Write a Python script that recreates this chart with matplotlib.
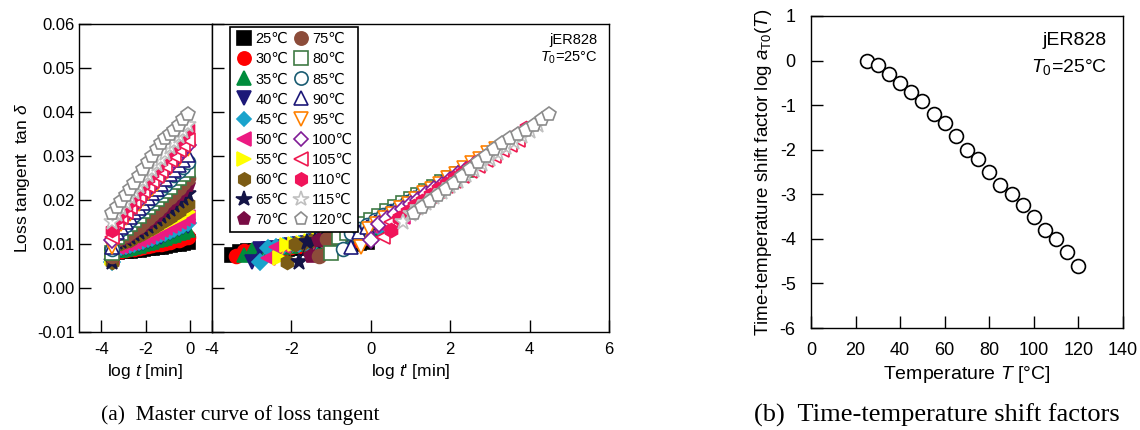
import matplotlib
matplotlib.use('Agg')
import matplotlib.pyplot as plt
from matplotlib.lines import Line2D

plt.rcParams['font.family'] = ['Liberation Sans', 'DejaVu Sans']
plt.rcParams['mathtext.fontset'] = 'custom'
plt.rcParams['mathtext.rm'] = 'Liberation Sans'
plt.rcParams['mathtext.it'] = 'Liberation Sans:italic'
plt.rcParams['mathtext.bf'] = 'Liberation Sans:bold'
plt.rcParams['axes.unicode_minus'] = False

# --- data ---
temps = [25, 30, 35, 40, 45, 50, 55, 60, 65, 70, 75, 80, 85, 90, 95, 100, 105, 110, 115, 120]
log_aT = [0.0, -0.1, -0.3, -0.5, -0.7, -0.9, -1.2, -1.4, -1.7, -2.0,
          -2.2, -2.5, -2.8, -3.0, -3.25, -3.5, -3.8, -4.0, -4.3, -4.6]

log_t = [-3.5, -3.3, -3.1, -2.9, -2.7, -2.5, -2.3, -2.1, -1.9,
         -1.7, -1.5, -1.3, -1.1, -0.9, -0.7, -0.5, -0.3, -0.1]

tan_25 = [0.0076, 0.0082, 0.0083, 0.0084, 0.0085, 0.0086, 0.0087, 0.0088, 0.0090, 0.0091, 0.0093, 0.0094, 0.0096, 0.0098, 0.0100, 0.0101, 0.0103, 0.0105]
tan_30 = [0.0072, 0.0084, 0.0085, 0.0086, 0.0088, 0.0089, 0.0091, 0.0093, 0.0095, 0.0097, 0.0099, 0.0101, 0.0103, 0.0105, 0.0108, 0.0110, 0.0113, 0.0115]
tan_35 = [0.0075, 0.0086, 0.0087, 0.0089, 0.0091, 0.0094, 0.0096, 0.0099, 0.0102, 0.0105, 0.0108, 0.0111, 0.0114, 0.0118, 0.0121, 0.0125, 0.0128, 0.0132]
tan_40 = [0.0060, 0.0088, 0.0089, 0.0092, 0.0094, 0.0097, 0.0100, 0.0103, 0.0106, 0.0110, 0.0114, 0.0117, 0.0121, 0.0125, 0.0129, 0.0133, 0.0138, 0.0142]
tan_45 = [0.0060, 0.0091, 0.0093, 0.0095, 0.0098, 0.0100, 0.0104, 0.0107, 0.0111, 0.0114, 0.0118, 0.0122, 0.0126, 0.0130, 0.0135, 0.0139, 0.0143, 0.0148]
tan_50 = [0.0068, 0.0094, 0.0096, 0.0099, 0.0102, 0.0105, 0.0109, 0.0113, 0.0117, 0.0122, 0.0126, 0.0131, 0.0136, 0.0141, 0.0146, 0.0151, 0.0157, 0.0162]
tan_55 = [0.0068, 0.0097, 0.0099, 0.0102, 0.0106, 0.0109, 0.0114, 0.0118, 0.0123, 0.0128, 0.0133, 0.0138, 0.0143, 0.0149, 0.0154, 0.0160, 0.0166, 0.0172]
tan_60 = [0.0060, 0.0100, 0.0102, 0.0106, 0.0110, 0.0115, 0.0120, 0.0125, 0.0131, 0.0137, 0.0143, 0.0149, 0.0155, 0.0162, 0.0169, 0.0176, 0.0183, 0.0190]
tan_65 = [0.0060, 0.0104, 0.0107, 0.0111, 0.0117, 0.0122, 0.0128, 0.0135, 0.0142, 0.0149, 0.0156, 0.0164, 0.0172, 0.0180, 0.0188, 0.0197, 0.0205, 0.0214]
tan_70 = [0.0072, 0.0108, 0.0111, 0.0116, 0.0122, 0.0129, 0.0136, 0.0143, 0.0151, 0.0159, 0.0167, 0.0176, 0.0185, 0.0194, 0.0203, 0.0213, 0.0223, 0.0233]
tan_75 = [0.0072, 0.0112, 0.0116, 0.0121, 0.0128, 0.0135, 0.0142, 0.0151, 0.0159, 0.0168, 0.0177, 0.0187, 0.0197, 0.0207, 0.0217, 0.0228, 0.0239, 0.0250]
tan_80 = [0.0079, 0.0117, 0.0126, 0.0136, 0.0145, 0.0155, 0.0164, 0.0174, 0.0183, 0.0193, 0.0202, 0.0211, 0.0221, 0.0230, 0.0240, 0.0249, 0.0259, 0.0268]
tan_85 = [0.0088, 0.0124, 0.0134, 0.0144, 0.0154, 0.0165, 0.0175, 0.0185, 0.0195, 0.0205, 0.0215, 0.0225, 0.0235, 0.0246, 0.0256, 0.0266, 0.0276, 0.0286]
tan_90 = [0.0093, 0.0128, 0.0139, 0.0150, 0.0161, 0.0172, 0.0182, 0.0193, 0.0204, 0.0215, 0.0226, 0.0237, 0.0248, 0.0259, 0.0269, 0.0280, 0.0291, 0.0302]
tan_95 = [0.0094, 0.0135, 0.0146, 0.0158, 0.0169, 0.0181, 0.0192, 0.0203, 0.0215, 0.0226, 0.0237, 0.0249, 0.0260, 0.0272, 0.0283, 0.0294, 0.0306, 0.0317]
tan_100 = [0.0109, 0.0145, 0.0156, 0.0168, 0.0179, 0.0190, 0.0201, 0.0213, 0.0224, 0.0235, 0.0246, 0.0258, 0.0269, 0.0280, 0.0291, 0.0303, 0.0314, 0.0325]
tan_105 = [0.0117, 0.0150, 0.0162, 0.0173, 0.0185, 0.0197, 0.0208, 0.0220, 0.0231, 0.0243, 0.0255, 0.0266, 0.0278, 0.0290, 0.0301, 0.0313, 0.0324, 0.0336]
tan_110 = [0.0132, 0.0160, 0.0173, 0.0186, 0.0198, 0.0211, 0.0224, 0.0237, 0.0249, 0.0262, 0.0275, 0.0288, 0.0300, 0.0313, 0.0326, 0.0339, 0.0351, 0.0364]
tan_115 = [0.0150, 0.0168, 0.0181, 0.0193, 0.0206, 0.0219, 0.0231, 0.0244, 0.0256, 0.0269, 0.0282, 0.0294, 0.0307, 0.0320, 0.0332, 0.0345, 0.0357, 0.0370]
tan_120 = [0.0170, 0.0184, 0.0198, 0.0211, 0.0225, 0.0239, 0.0255, 0.0270, 0.0286, 0.0300, 0.0315, 0.0330, 0.0341, 0.0350, 0.0360, 0.0370, 0.0383, 0.0396]

tan_d = [tan_25, tan_30, tan_35, tan_40, tan_45, tan_50, tan_55, tan_60, tan_65, tan_70,
         tan_75, tan_80, tan_85, tan_90, tan_95, tan_100, tan_105, tan_110, tan_115, tan_120]

# marker, colour, filled
styles = [('s', '#000000', True), ('o', '#ff0000', True), ('^', '#008c3c', True),
          ('v', '#1c1878', True), ('D', '#1aa3cc', True), ('<', '#ec1a82', True),
          ('>', '#ffff00', True), ('h', '#7c5c14', True), ('*', '#141446', True),
          ('p', '#780c44', True), ('o', '#8c4c3a', True), ('s', '#3f7a44', False),
          ('o', '#1a5c72', False), ('^', '#1c1878', False), ('v', '#ff8000', False),
          ('D', '#801c96', False), ('<', '#ee1a50', False), ('h', '#f0145a', True),
          ('*', '#c0c0c0', False), ('p', '#8c8c8c', False)]


def marker_kw(i, ms=10):
    mk, col, filled = styles[i]
    if mk == '*':
        ms = ms * 1.2
    if mk == 'D':
        ms = ms * 0.8
    return dict(marker=mk, ms=ms, mfc=col if filled else 'white', mec=col, mew=1.2)


def style_axis(ax, size, xpad, ypad):
    for s in ax.spines.values():
        s.set_linewidth(1.0)
    ax.tick_params(direction='in', length=8.5, width=1.0, labelsize=size)
    ax.tick_params(axis='x', pad=xpad)
    ax.tick_params(axis='y', pad=ypad)


fig = plt.figure(figsize=(11.4, 4.3), dpi=100)

ax1 = fig.add_axes([0.0693, 0.2279, 0.1167, 0.7163])
ax2 = fig.add_axes([0.1860, 0.2279, 0.3482, 0.7163])
ax3 = fig.add_axes([0.7114, 0.2372, 0.2737, 0.7256])

for i in range(len(temps)):
    kw = marker_kw(i)
    col = styles[i][1]
    ax1.plot(log_t, tan_d[i], '-', color=col, lw=0.8, **kw)
    shifted = [v - log_aT[i] for v in log_t]
    ax2.plot(shifted, tan_d[i], '-', color=col, lw=0.8, **kw)

# left: raw data
ax1.set_xlim(-5, 1)
ax1.set_ylim(-0.01, 0.06)
ax1.set_xticks([-4, -2, 0])
ax1.set_yticks([-0.01, 0.0, 0.01, 0.02, 0.03, 0.04, 0.05, 0.06])
ax1.set_yticklabels(['%.2f' % v for v in ax1.get_yticks()])
ax1.set_xlabel(r'log $t$ [min]', fontsize=12.5)
ax1.set_ylabel(r'Loss tangent  tan $\delta$', fontsize=12.5)
style_axis(ax1, 12, 7, 3)

# right: master curve
ax2.set_xlim(-4, 6)
ax2.set_ylim(-0.01, 0.06)
ax2.set_xticks([-4, -2, 0, 2, 4, 6])
ax2.set_yticks([-0.01, 0.0, 0.01, 0.02, 0.03, 0.04, 0.05, 0.06])
ax2.set_yticklabels([])
ax2.set_xlabel(r"log $t$' [min]", fontsize=12.5)
style_axis(ax2, 12, 7, 3)
ax2.text(0.972, 0.971, 'jER828', transform=ax2.transAxes, ha='right', va='top', fontsize=10.5)
ax2.text(0.972, 0.917, r'$T_0$=25°C', transform=ax2.transAxes, ha='right', va='top', fontsize=10.5)

handles = [Line2D([], [], ls='none', **marker_kw(i, ms=9.5)) for i in range(len(temps))]
labels = ['%d\u2103' % T for T in temps]
leg = ax2.legend(handles, labels, ncol=2, loc='upper left', bbox_to_anchor=(0.045, 0.99),
                 borderaxespad=0, fontsize=10.5, frameon=True, fancybox=False,
                 edgecolor='black', framealpha=1, labelspacing=0.42,
                 handletextpad=0.1, columnspacing=0.25, handlelength=1.3, borderpad=0.35)
leg.get_frame().set_linewidth(1.2)

# shift factors
ax3.plot(temps, log_aT, 'o', ls='none', ms=10, mfc='white', mec='black', mew=1.2)
ax3.set_xlim(0, 140)
ax3.set_ylim(-6, 1)
ax3.set_xticks(range(0, 141, 20))
ax3.set_yticks(range(-6, 2))
ax3.set_xlabel(r'Temperature $T$ [°C]', fontsize=14)
ax3.set_ylabel(r'Time-temperature shift factor log $a_{\mathrm{T0}}$($T$)', fontsize=13.5)
style_axis(ax3, 13, 10, 11)
ax3.text(0.949, 0.949, 'jER828', transform=ax3.transAxes, ha='right', va='top', fontsize=14)
ax3.text(0.949, 0.869, r'$T_0$=25°C', transform=ax3.transAxes, ha='right', va='top', fontsize=14)

fig.text(0.2105, 0.035, '(a)  Master curve of loss tangent', ha='center', va='center',
         family='Liberation Serif', fontsize=15.5)
fig.text(0.822, 0.035, '(b)  Time-temperature shift factors', ha='center', va='center',
         family='Liberation Serif', fontsize=19)

fig.savefig('out.png', dpi=100)
